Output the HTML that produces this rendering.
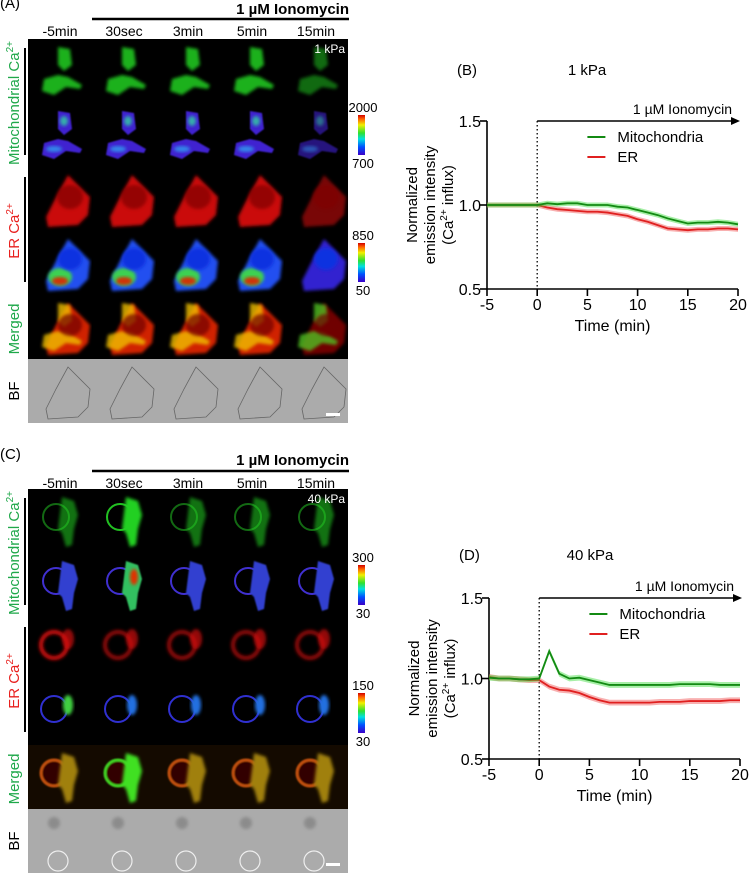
<!DOCTYPE html>
<html><head><meta charset="utf-8">
<style>
html,body{margin:0;padding:0;background:#fff;}
svg{display:block;font-family:"Liberation Sans",Arial,sans-serif;}
</style></head>
<body>
<svg id="fig" width="750" height="876" viewBox="0 0 750 876" xmlns="http://www.w3.org/2000/svg">
<defs>
<filter id="bl" x="-20%" y="-20%" width="140%" height="140%"><feGaussianBlur stdDeviation="1.6"/></filter>
<filter id="bl2" x="-20%" y="-20%" width="140%" height="140%"><feGaussianBlur stdDeviation="0.8"/></filter>
<linearGradient id="jet" x1="0" y1="1" x2="0" y2="0">
<stop offset="0" stop-color="#3a00c8"/><stop offset="0.2" stop-color="#0050ff"/><stop offset="0.4" stop-color="#00e0e0"/><stop offset="0.55" stop-color="#30e030"/><stop offset="0.75" stop-color="#f0f000"/><stop offset="0.9" stop-color="#ff6000"/><stop offset="1" stop-color="#d00000"/>
</linearGradient>
</defs>
<g id="panelA"></g>
<g id="panelC"></g>
<g id="chartB"></g>
<g id="chartD"></g>
</svg>
<script>
// ---- chart data ----
const timeMin = [-5,-4,-3,-2,-1,0,1,2,3,4,5,6,7,8,9,10,11,12,13,14,15,16,17,18,19,20];
const mitoB = [1.0,1.0,1.0,1.0,1.0,1.0,1.01,1.005,1.01,1.01,1.0,1.0,1.0,0.99,0.985,0.97,0.955,0.94,0.92,0.905,0.89,0.895,0.895,0.9,0.895,0.885];
const erB   = [1.0,1.0,1.0,1.0,1.0,1.0,0.985,0.975,0.97,0.965,0.96,0.96,0.955,0.945,0.935,0.915,0.9,0.88,0.86,0.855,0.85,0.855,0.855,0.86,0.86,0.855];
const mitoD = [1.005,1.0,1.0,0.995,0.995,1.0,1.17,1.03,1.0,1.005,0.99,0.975,0.96,0.96,0.96,0.96,0.96,0.96,0.96,0.965,0.965,0.965,0.965,0.96,0.96,0.96];
const erD   = [1.01,1.0,1.0,0.995,0.99,0.99,0.95,0.93,0.925,0.91,0.885,0.865,0.85,0.85,0.85,0.85,0.85,0.855,0.855,0.855,0.86,0.86,0.86,0.86,0.865,0.865];
const semB = 0.015, semD = 0.018;
const xTicks = [-5,0,5,10,15,20];
const yTicks = [0.5,1.0,1.5];
const yTickLabels = ["0.5","1.0","1.5"];
const colLabels = ["-5min","30sec","3min","5min","15min"];

const NS="http://www.w3.org/2000/svg";
function el(tag,attrs,parent,text){const e=document.createElementNS(NS,tag);for(const k in attrs)e.setAttribute(k,attrs[k]);if(text!==undefined)e.textContent=text;parent.appendChild(e);return e;}

function drawChart(g, opt){
  const x0=opt.x0,x1=opt.x1,yb=opt.yb,yt=opt.yt;
  const sx=v=>x0+(v+5)/25*(x1-x0);
  const sy=v=>yb-(v-0.5)/1.0*(yb-yt);
  let t;
  t=el('text',{x:opt.lx,y:opt.ly,'font-size':15},g,opt.label);
   
  t=el('text',{x:opt.tx,y:opt.ly,'font-size':15,'text-anchor':'middle'},g,opt.title);
   
  let a=el('path',{d:`M${x0} ${sy(1.5)} V${yb} H${x1}`,stroke:'#000','stroke-width':1.6,fill:'none'},g);
   
  yTicks.forEach((v,i)=>{
    el('line',{x1:x0-7,x2:x0,y1:sy(v),y2:sy(v),stroke:'#000','stroke-width':1.6},g);
    const tl=el('text',{x:x0-6,y:sy(v)+6,'font-size':16,'text-anchor':'end'},g,yTickLabels[i]);
     
  });
  xTicks.forEach(v=>{
    el('line',{x1:sx(v),x2:sx(v),y1:yb,y2:yb+7,stroke:'#000','stroke-width':1.6},g);
    const tl=el('text',{x:sx(v),y:yb+21,'font-size':16,'text-anchor':'middle'},g,String(v));
     
  });
  t=el('text',{x:(x0+x1)/2,y:yb+42,'font-size':16,'text-anchor':'middle'},g,'Time (min)');
   
  const cy=(yb+sy(1.5))/2;
  const yt1=el('text',{transform:`translate(${x0-70},${cy}) rotate(-90)`,'font-size':15,'text-anchor':'middle'},g);
   
  el('tspan',{x:0,dy:0},yt1,'Normalized');
  el('tspan',{x:0,dy:18},yt1,'emission intensity');
  el('tspan',{x:0,dy:18},yt1,'(Ca');
  el('tspan',{'font-size':10,dy:-6},yt1,'2+');
  el('tspan',{dy:6},yt1,' influx)');
  let dz=el('line',{x1:sx(0),x2:sx(0),y1:sy(1.5),y2:yb,stroke:'#000','stroke-width':1.3,'stroke-dasharray':'1.5,2.5'},g);
   
  let ar=el('path',{d:`M${sx(0)} ${sy(1.5)} H${x1-2}`,stroke:'#000','stroke-width':1.5},g);
   
  el('path',{d:`M${x1+2} ${sy(1.5)} l-9 -4 v8 z`,fill:'#000'},g);
  t=el('text',{x:x1-6,y:sy(1.5)-7,'font-size':14,'text-anchor':'end'},g,'1 µM Ionomycin');
   
  const series=[{d:opt.er,c:'#e02020',band:'rgba(240,80,80,0.45)',n:'er'},{d:opt.mito,c:'#138a13',band:'rgba(60,220,60,0.45)',n:'mitochondria'}];
  series.forEach(s=>{
    let up=timeMin.map((tm,i)=>`${sx(tm)},${sy(s.d[i]+opt.sem)}`);
    let dn=timeMin.map((tm,i)=>`${sx(tm)},${sy(s.d[i]-opt.sem)}`).reverse();
    const b=el('polygon',{points:up.concat(dn).join(' '),fill:s.band},g);
     
    const l=el('polyline',{points:timeMin.map((tm,i)=>`${sx(tm)},${sy(s.d[i])}`).join(' '),fill:'none',stroke:s.c,'stroke-width':1.8},g);
     
  });
  const lx=sx(0)+(x1-sx(0))*0.25, ly=sy(1.5)+16;
  [['Mitochondria','#138a13'],['ER','#e02020']].forEach((e,i)=>{
    const lg=el('g',{},g);
     
    el('line',{x1:lx,x2:lx+18,y1:ly+i*20,y2:ly+i*20,stroke:e[1],'stroke-width':2},lg);
    el('text',{x:lx+30,y:ly+i*20+5,'font-size':15},lg,e[0]);
  });
}
drawChart(document.getElementById('chartB'),{x0:487,x1:738,yb:289,yt:121,lx:457,ly:75,tx:587,title:'1 kPa',label:'(B)',mito:mitoB,er:erB,sem:semB});
drawChart(document.getElementById('chartD'),{x0:489,x1:740,yb:759,yt:598,lx:459,ly:560,tx:590,title:'40 kPa',label:'(D)',mito:mitoD,er:erD,sem:semD});

// ---- image panels ----
function cellA(g,row,col){
  const dim = col===4?0.6:1;
  const mitoP="M30 8 L42 10 L44 26 L36 32 L30 26 Z M16 40 L30 36 L40 38 L54 46 L52 50 L38 48 L26 56 L14 52 Z";
  const cellP="M40 8 L62 30 L60 48 L50 58 L20 60 L18 50 L28 30 Z";
  if(row===0){el('path',{d:mitoP,fill:'#22d022',opacity:0.85*dim,filter:'url(#bl)'},g);}
  else if(row===1){el('path',{d:mitoP,fill:'#4020d0',opacity:dim,filter:'url(#bl2)'},g);
    el('ellipse',{cx:36,cy:18,rx:4,ry:5,fill:'#30d0a0',opacity:0.8*dim,filter:'url(#bl)'},g);
    el('ellipse',{cx:26,cy:46,rx:8,ry:3,fill:'#30a0f0',opacity:0.8*dim,filter:'url(#bl)'},g);}
  else if(row===2){el('path',{d:cellP,fill:'#e01010',opacity:dim*0.9,filter:'url(#bl)'},g);
    el('ellipse',{cx:42,cy:30,rx:13,ry:12,fill:'#800000',opacity:0.7,filter:'url(#bl)'},g);}
  else if(row===3){el('path',{d:cellP,fill:col===4?'#3020d0':'#2050f0',filter:'url(#bl)'},g);
    if(col<4){el('ellipse',{cx:32,cy:46,rx:12,ry:9,fill:'#40e040',opacity:0.9,filter:'url(#bl)'},g);
    el('ellipse',{cx:32,cy:50,rx:8,ry:4,fill:'#e02000',opacity:0.9,filter:'url(#bl)'},g);}
    el('ellipse',{cx:42,cy:28,rx:12,ry:11,fill:'#1030e0',filter:'url(#bl)'},g);}
  else if(row===4){el('path',{d:cellP,fill:col===4?'#700000':'#d02000',filter:'url(#bl)'},g);
    el('path',{d:mitoP,fill:col===4?'#50c020':'#f0c000',opacity:0.8,filter:'url(#bl)'},g);
    el('ellipse',{cx:42,cy:30,rx:12,ry:11,fill:'#700000',opacity:0.7,filter:'url(#bl)'},g);}
  else {el('path',{d:cellP,fill:'none',stroke:'#666','stroke-width':0.8},g);}
}
function cellC(g,row,col){
  const bright = col===1?1:0.55;
  const massP="M34 8 L46 12 L50 26 L46 40 L44 56 L38 58 L34 44 L30 40 Z";
  if(row===0){el('circle',{cx:28,cy:28,r:13,fill:'none',stroke:'#22c022','stroke-width':2,opacity:bright},g);
    el('path',{d:massP,fill:'#22d022',opacity:bright,filter:'url(#bl)'},g);}
  else if(row===1){el('circle',{cx:28,cy:28,r:13,fill:'none',stroke:'#4030d0','stroke-width':2},g);
    el('path',{d:massP,fill:col===1?'#30c060':'#3040d0',filter:'url(#bl2)'},g);
    if(col===1)el('ellipse',{cx:42,cy:24,rx:4,ry:8,fill:'#e03000',filter:'url(#bl)'},g);}
  else if(row===2){el('circle',{cx:26,cy:28,r:13,fill:'none',stroke:'#d01010','stroke-width':4,opacity:col===0?1:0.7,filter:'url(#bl)'},g);
    el('ellipse',{cx:40,cy:22,rx:6,ry:10,fill:'#d01010',opacity:0.7,filter:'url(#bl)'},g);}
  else if(row===3){el('circle',{cx:26,cy:28,r:13,fill:'none',stroke:'#3030d0','stroke-width':2},g);
    el('ellipse',{cx:40,cy:24,rx:5,ry:10,fill:col===0?'#40d040':'#2070e0',filter:'url(#bl)'},g);}
  else if(row===4){el('circle',{cx:26,cy:28,r:13,fill:'#300000',stroke:col===1?'#40d020':'#c05010','stroke-width':3,filter:'url(#bl2)'},g);
    el('path',{d:massP,fill:col===1?'#40e020':'#a08010',filter:'url(#bl)'},g);}
  else {el('circle',{cx:30,cy:52,r:10,fill:'none',stroke:'#eee','stroke-width':1.2},g);
    el('circle',{cx:26,cy:14,r:6,fill:'#777',opacity:0.6,filter:'url(#bl)'},g);}
}
function panel(g,top,headY,lineY,label,kpa,cbars,cellFn,cLab){
  let t=el('text',{x:0,y:headY-6,'font-size':15},g,label);
   
  t=el('text',{x:349,y:headY,'font-size':15,'font-weight':'bold','text-anchor':'end'},g,'1 µM Ionomycin');
   
  el('line',{x1:92,x2:349,y1:lineY,y2:lineY,stroke:'#000','stroke-width':2.5},g);
  colLabels.forEach((c,i)=>{const tl=el('text',{x:60+64*i,y:lineY+17,'font-size':14,'text-anchor':'middle'},g,c);
     });
  for(let r=0;r<6;r++)for(let c=0;c<5;c++){
    const tg=el('g',{transform:`translate(${28+64*c},${top+64*r})`},g);
     
    el('rect',{x:0,y:0,width:64,height:64,fill:r===5?'#ababab':(cLab&&r===4?'#140a00':'#000')},tg);
    cellFn(tg,r,c);
  }
  t=el('text',{x:345,y:top+14,'font-size':12,fill:'#fff','text-anchor':'end'},g,kpa);
   
  el('rect',{x:326,y:top+64*6-10,width:14,height:3,fill:'#fff'},g);
  el('line',{x1:25,x2:25,y1:top+9,y2:top+116,stroke:'#000','stroke-width':2},g);
  el('line',{x1:25,x2:25,y1:top+138,y2:top+243,stroke:'#000','stroke-width':2},g);
  const sl=[['Mitochondrial Ca','#1fa84a',top+64,true],['ER Ca','#e8201e',top+192,true],['Merged','#1fa84a',top+290,false],['BF','#000',top+352,false]];
  sl.forEach(s=>{const tx=el('text',{transform:`translate(19,${s[2]}) rotate(-90)`,'font-size':15,fill:s[1],'text-anchor':'middle'},g);
     
    el('tspan',{},tx,s[0]); if(s[3]) el('tspan',{'font-size':10,dy:-6},tx,'2+');});
  cbars.forEach(cb=>{
    const r=el('rect',{x:358,y:cb[0],width:7,height:cb[1]-cb[0],fill:'url(#jet)'},g);
     
    el('text',{x:363,y:cb[0]-3,'font-size':13,'text-anchor':'middle'},g,cb[2]);
    el('text',{x:363,y:cb[1]+13,'font-size':13,'text-anchor':'middle'},g,cb[3]);
  });
}
panel(document.getElementById('panelA'),39,14,19,'(A)','1 kPa',[[115,155,'2000','700'],[243,282,'850','50']],cellA,false);
panel(document.getElementById('panelC'),489,465,471,'(C)','40 kPa',[[565,605,'300','30'],[693,733,'150','30']],cellC,true);
</script>
</body></html>
